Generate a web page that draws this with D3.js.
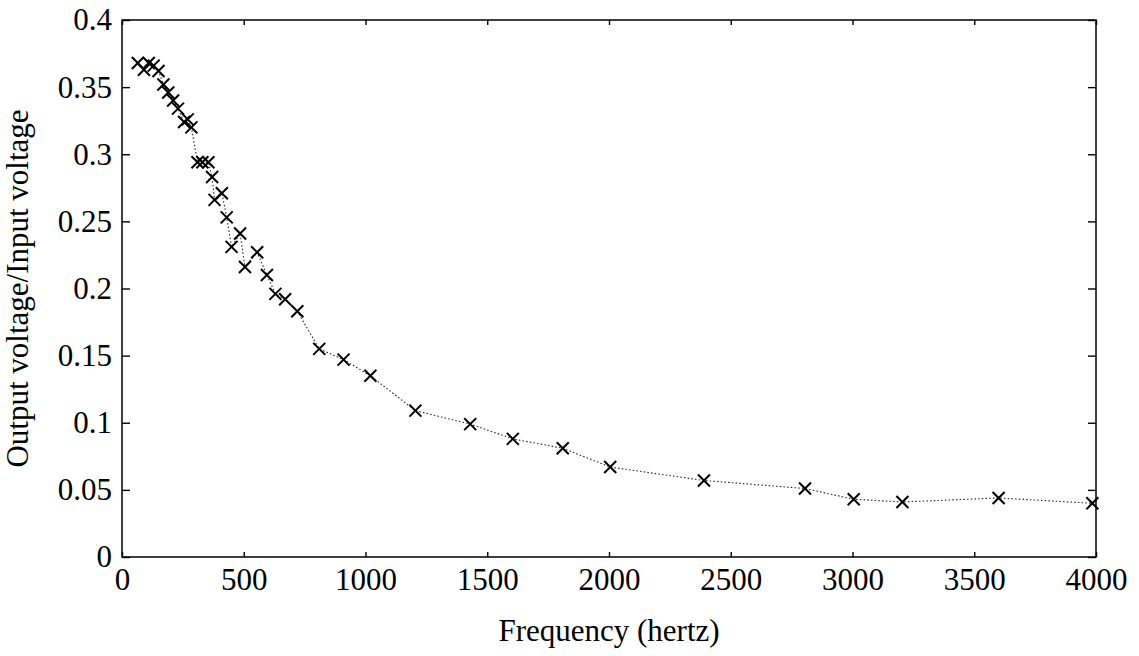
<!DOCTYPE html>
<html>
<head>
<meta charset="utf-8">
<script src="https://cdn.jsdelivr.net/npm/d3@7/dist/d3.min.js"></script>
<style>
  html, body { margin: 0; padding: 0; background: #fff; }
  svg { display: block; }
  text { font-family: "Liberation Serif", "DejaVu Serif", serif; fill: #000; }
</style>
</head>
<body>
<svg id="chart" width="1139" height="656"></svg>
<script>
// Frequency (Hz) of each measurement
const frequencies = [65, 90, 110, 130, 150, 170, 190, 210, 230, 255, 270, 285,
  310, 330, 355, 370, 380, 410, 430, 450, 485, 505, 555, 595, 630, 670, 720,
  810, 910, 1020, 1205, 1430, 1605, 1810, 2005, 2390, 2805, 3005, 3205, 3600, 3985];
// Output voltage / input voltage
const ratios = [0.368, 0.363, 0.368, 0.366, 0.362, 0.352, 0.346, 0.340, 0.334, 0.324, 0.326, 0.320,
  0.294, 0.294, 0.294, 0.283, 0.266, 0.271, 0.253, 0.231, 0.241, 0.216, 0.227, 0.210, 0.196, 0.192, 0.183,
  0.155, 0.147, 0.135, 0.109, 0.099, 0.088, 0.081, 0.067, 0.057, 0.051, 0.043, 0.041, 0.044, 0.040];

const xTicks = [0, 500, 1000, 1500, 2000, 2500, 3000, 3500, 4000];
const yTicks = [0, 0.05, 0.1, 0.15, 0.2, 0.25, 0.3, 0.35, 0.4];
const xLabel = "Frequency (hertz)";
const yLabel = "Output voltage/Input voltage";

const svg = d3.select("#chart");
const mL = 122, mR = 1096, mT = 20, mB = 557;
const fs = "31px";

const x = d3.scaleLinear().domain([0, 4000]).range([mL, mR]);
const y = d3.scaleLinear().domain([0, 0.4]).range([mB, mT]);

const fmtY = d => d === 0 ? "0" : String(+d.toFixed(2));

// Bottom axis (inward ticks)
const gx = svg.append("g").attr("transform", `translate(0,${mB})`)
  .call(d3.axisBottom(x).tickValues(xTicks).tickSizeInner(-5).tickSizeOuter(0).tickFormat(d3.format("d")));
gx.select(".domain").remove();
gx.selectAll(".tick text").attr("y", 11).attr("dy", "0.71em")
  .style("font-size", fs).style("font-family", "Liberation Serif");
// Top axis ticks
const gxt = svg.append("g").attr("transform", `translate(0,${mT})`)
  .call(d3.axisTop(x).tickValues(xTicks).tickSizeInner(-5).tickSizeOuter(0).tickFormat(""));
gxt.select(".domain").remove();

// Left axis
const gy = svg.append("g").attr("transform", `translate(${mL},0)`)
  .call(d3.axisLeft(y).tickValues(yTicks).tickSizeInner(-8).tickSizeOuter(0).tickFormat(fmtY));
gy.select(".domain").remove();
gy.selectAll(".tick text").attr("x", -10)
  .style("font-size", fs).style("font-family", "Liberation Serif");
// Right axis ticks
const gyr = svg.append("g").attr("transform", `translate(${mR},0)`)
  .call(d3.axisRight(y).tickValues(yTicks).tickSizeInner(-8).tickSizeOuter(0).tickFormat(""));
gyr.select(".domain").remove();

svg.selectAll(".tick line").attr("stroke", "#000").attr("stroke-width", 1.4);

// Frame
svg.append("rect").attr("x", mL).attr("y", mT)
  .attr("width", mR - mL).attr("height", mB - mT)
  .attr("fill", "none").attr("stroke", "#000").attr("stroke-width", 1.5);

// Dotted line
const pts = frequencies.map((f, i) => [f, ratios[i]]);
svg.append("path").datum(pts)
  .attr("fill", "none").attr("stroke", "#222").attr("stroke-width", 1.1)
  .attr("stroke-dasharray", "1.5,2.2")
  .attr("d", d3.line().x(d => x(d[0])).y(d => y(d[1])));

// X markers
const s = 6;
const mk = svg.append("g");
pts.forEach(d => {
  const cx = x(d[0]), cy = y(d[1]);
  mk.append("path")
    .attr("d", `M${cx - s},${cy - s}L${cx + s},${cy + s}M${cx - s},${cy + s}L${cx + s},${cy - s}`)
    .attr("stroke", "#000").attr("stroke-width", 2).attr("fill", "none");
});

// Axis labels
svg.append("text").attr("x", (mL + mR) / 2).attr("y", 641)
  .attr("text-anchor", "middle").style("font-size", fs).text(xLabel);
svg.append("text")
  .attr("transform", `translate(28,${(mT + mB) / 2}) rotate(-90)`)
  .attr("text-anchor", "middle").style("font-size", fs).text(yLabel);
</script>
</body>
</html>
